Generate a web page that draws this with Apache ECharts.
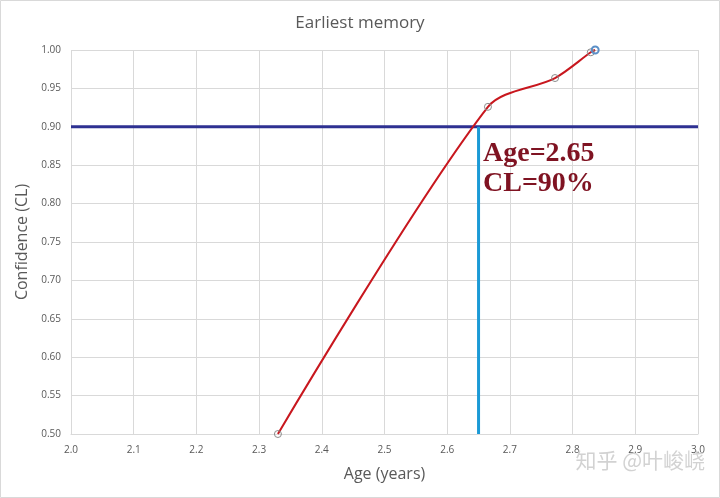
<!DOCTYPE html>
<html><head><meta charset="utf-8">
<script src="https://cdn.jsdelivr.net/npm/echarts@6/dist/echarts.min.js"></script>
<style>html,body{margin:0;padding:0;background:#fff}#c{width:720px;height:498px}</style>
</head><body><div id="c"></div>
<script>
var ageValues = [2.33, 2.665, 2.772, 2.829, 2.836];
var confValues = [0.50, 0.926, 0.9635, 0.997, 1.0];
var xTicks = [2.0, 3.0, 0.1];
var yTicks = [0.5, 1.0, 0.05];
var thresholdAge = 2.65;
var thresholdCL = 0.90;
var annotation = ['Age=2.65', 'CL=90%'];
var watermark = '知乎 @叶峻峣';

var curve = ageValues.map(function (a, i) {
  var p = { value: [a, confValues[i]] };
  if (i === ageValues.length - 1) p.itemStyle = { borderColor: '#5b8fc7', borderWidth: 2 };
  return p;
});
var chart = echarts.init(document.getElementById('c'));
chart.setOption({
  animation: false,
  backgroundColor: '#fff',
  title: { text: 'Earliest memory', left: 'center', top: 10,
    textStyle: { fontFamily: 'Open Sans', fontSize: 17, fontWeight: 'normal', color: '#595959' } },
  grid: { left: 71, right: 22, top: 50, bottom: 64 },
  xAxis: { type: 'value', min: xTicks[0], max: xTicks[1], interval: xTicks[2],
    name: 'Age (years)', nameLocation: 'middle', nameGap: 32,
    nameTextStyle: { fontFamily: 'Open Sans', fontSize: 16, color: '#595959' },
    axisLine: { lineStyle: { color: '#d9d9d9' } }, axisTick: { show: false },
    axisLabel: { fontFamily: 'Open Sans', fontSize: 10, color: '#595959', margin: 11,
      formatter: function (v) { return v.toFixed(1); } },
    splitLine: { show: true, lineStyle: { color: '#d9d9d9' } } },
  yAxis: { type: 'value', min: yTicks[0], max: yTicks[1], interval: yTicks[2],
    name: 'Confidence (CL)', nameLocation: 'middle', nameGap: 41, nameRotate: 90,
    nameTextStyle: { fontFamily: 'Open Sans', fontSize: 16, color: '#595959' },
    axisLine: { show: false }, axisTick: { show: false },
    axisLabel: { fontFamily: 'Open Sans', fontSize: 10, color: '#595959', margin: 10,
      formatter: function (v) { return v.toFixed(2); } },
    splitLine: { show: true, lineStyle: { color: '#d9d9d9' } } },
  series: [
    { type: 'line', data: [[xTicks[0], thresholdCL], [xTicks[1], thresholdCL]], symbol: 'none',
      lineStyle: { color: '#2E3192', width: 3 }, z: 3 },
    { type: 'line', data: [[thresholdAge, yTicks[0]], [thresholdAge, thresholdCL]], symbol: 'none',
      lineStyle: { color: '#1B9AD6', width: 3 }, z: 3 },
    { type: 'line', data: curve, smooth: 0.3, symbol: 'circle', symbolSize: 7, showAllSymbol: true,
      lineStyle: { color: '#C8171E', width: 2 },
      itemStyle: { color: 'rgba(255,255,255,0)', borderColor: '#8c8c8c', borderWidth: 1 }, z: 4 }
  ],
  graphic: [
    { type: 'text', left: 483, top: 139, z: 10,
      style: { text: annotation.join('\n'), fontFamily: 'Liberation Serif', fontWeight: 'bold',
        fontSize: 28, lineHeight: 30, fill: '#7F1322' } },
    { type: 'text', right: 15, top: 450, z: 10,
      style: { text: watermark, fontFamily: 'Noto Sans CJK SC', fontSize: 21, fill: '#d2d2d2' } },
    { type: 'rect', shape: { x: 0.5, y: 0.5, width: 719, height: 497 },
      style: { fill: 'none', stroke: '#d9d9d9', lineWidth: 1 }, z: -1 }
  ]
});
</script></body></html>
